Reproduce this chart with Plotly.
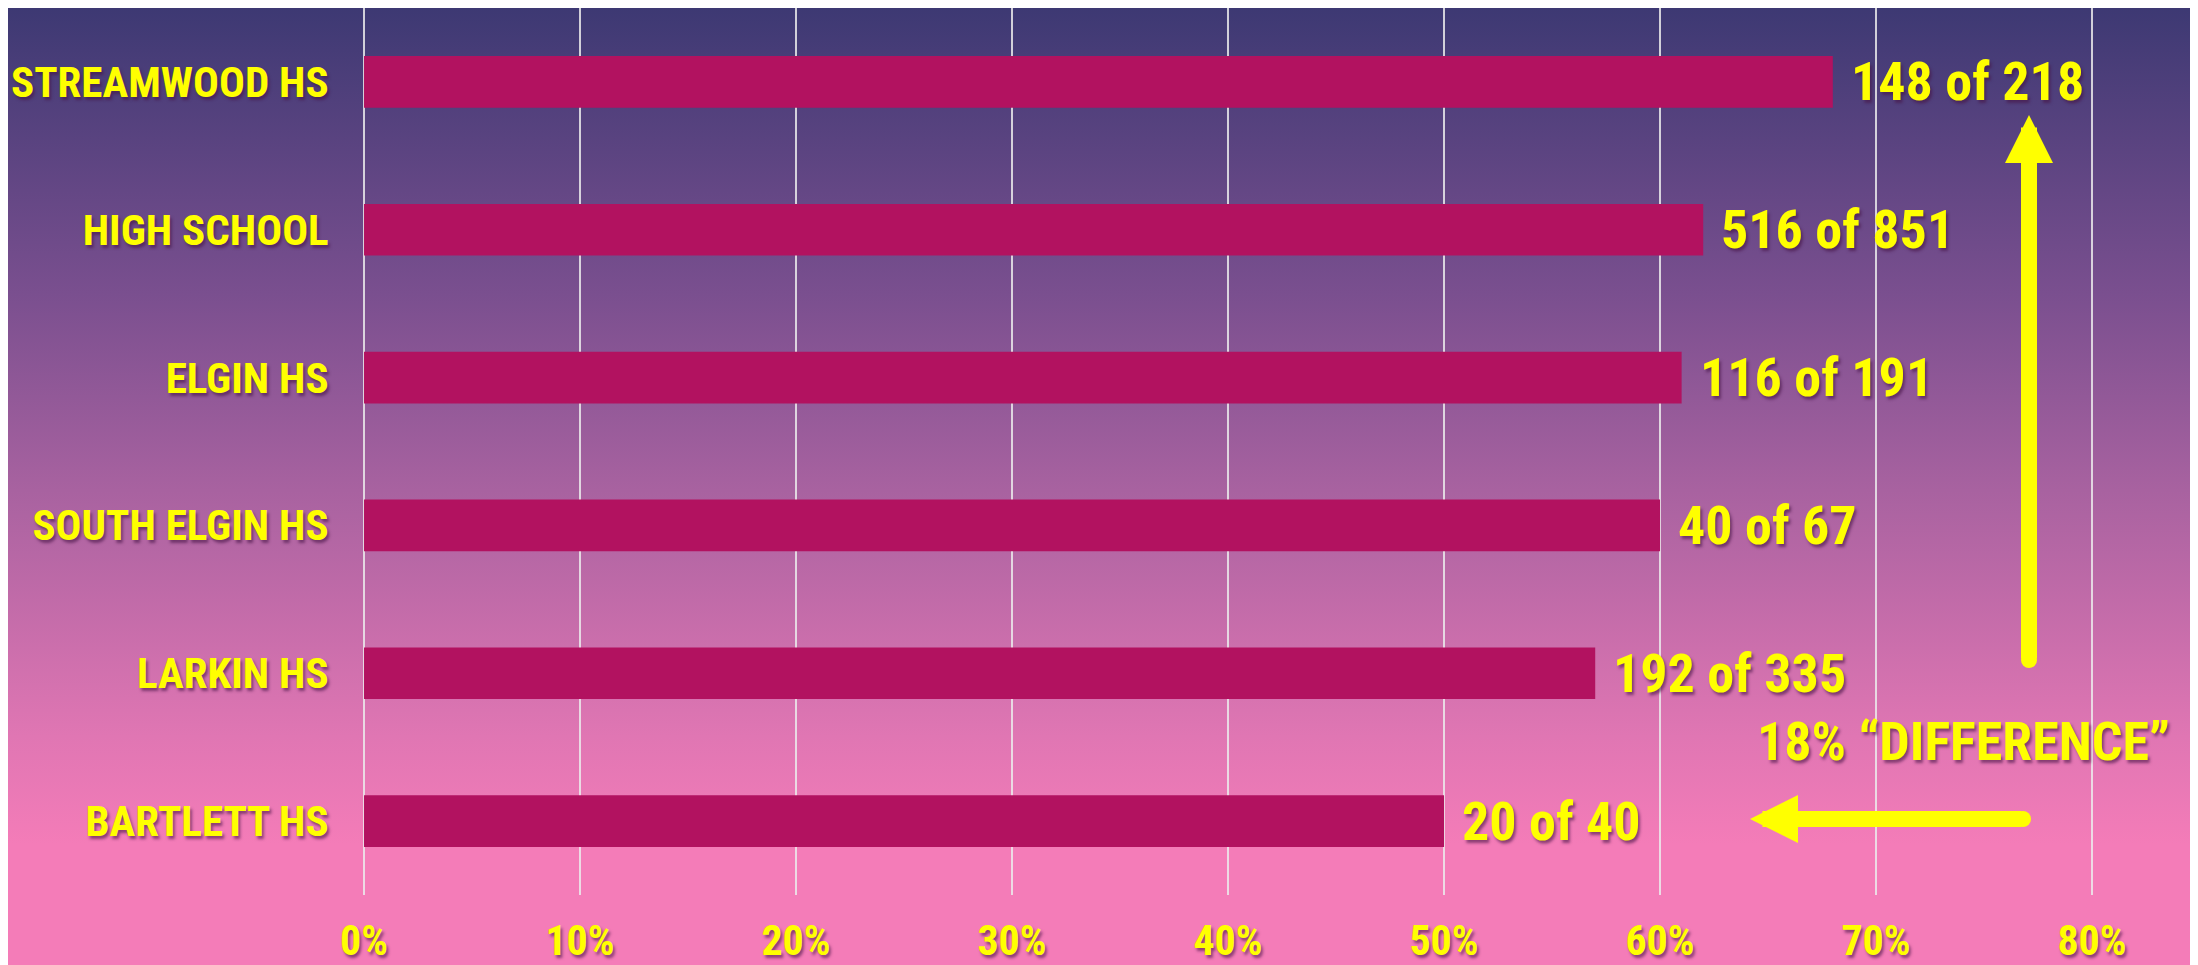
import base64
import pandas as pd
import plotly.express as px

# Datos
colegios = ["STREAMWOOD HS", "HIGH SCHOOL", "ELGIN HS", "SOUTH ELGIN HS", "LARKIN HS", "BARTLETT HS"]
porcentajes = [0.68, 0.62, 0.61, 0.60, 0.57, 0.50]
etiquetas = ["148 of 218", "516 of 851", "116 of 191", "40 of 67", "192 of 335", "20 of 40"]
ticks_x = [0, 0.1, 0.2, 0.3, 0.4, 0.5, 0.6, 0.7, 0.8]
texto_diferencia = "18% \u201cDIFFERENCE\u201d"

FUENTE = "Roboto Condensed, Open Sans Condensed, DejaVu Sans Condensed, sans-serif"
AMARILLO = "#ffff00"
SOMBRA = "2px 3px 3px rgba(70,20,70,0.6)"


def fondo_degradado():
    """Fondo con degradado vertical (azul oscuro arriba, rosa abajo) como SVG embebido."""
    svg = (
        '<svg xmlns="http://www.w3.org/2000/svg" width="100" height="100" '
        'viewBox="0 0 100 100" preserveAspectRatio="none">'
        '<defs><linearGradient id="g" x1="0" y1="0" x2="0" y2="1">'
        '<stop offset="0" stop-color="#3b3872"/>'
        '<stop offset="0.3" stop-color="#7a4f8f"/>'
        '<stop offset="0.5" stop-color="#a862a0"/>'
        '<stop offset="0.75" stop-color="#e076b3"/>'
        '<stop offset="0.86" stop-color="#f47cb8"/>'
        '<stop offset="1" stop-color="#f47cb8"/>'
        '</linearGradient></defs>'
        '<rect width="100" height="100" fill="url(#g)"/></svg>'
    )
    return "data:image/svg+xml;base64," + base64.b64encode(svg.encode()).decode()


def punta_redonda(x, y):
    """Círculo pequeño para redondear el extremo de la flecha."""
    return dict(
        type="circle", xref="paper", yref="paper", xsizemode="pixel", ysizemode="pixel",
        xanchor=x, yanchor=y, x0=-8, x1=8, y0=-8, y1=8,
        fillcolor=AMARILLO, line_width=0, layer="above",
    )


df = pd.DataFrame({"Colegio": colegios, "Porcentaje": porcentajes, "Etiqueta": etiquetas})

fig = px.bar(df, x="Porcentaje", y="Colegio", orientation="h")
fig.update_traces(marker_color="#b21260", marker_line_width=0, width=0.35, hoverinfo="skip")

# Etiquetas "x of y" a la derecha de cada barra
for _, fila in df.iterrows():
    fig.add_annotation(
        x=fila["Porcentaje"], y=fila["Colegio"], text=fila["Etiqueta"],
        xanchor="left", yanchor="middle", xshift=16, showarrow=False,
        font=dict(family=FUENTE, size=54, color=AMARILLO, weight="bold", shadow=SOMBRA),
    )

# Flechas y texto de la "diferencia"
fig.add_annotation(
    x=0.91947, y=0.88912, xref="paper", yref="paper", text="", showarrow=True,
    ax=0, ay=545, arrowhead=2, arrowwidth=16, arrowsize=0.6, arrowcolor=AMARILLO,
)
fig.add_annotation(
    x=0.79254, y=0.15959, xref="paper", yref="paper", text="", showarrow=True,
    ax=273, ay=0, arrowhead=2, arrowwidth=16, arrowsize=0.6, arrowcolor=AMARILLO,
)
fig.add_annotation(
    x=0.88945, y=0.23938, xref="paper", yref="paper", text=texto_diferencia, showarrow=False,
    xanchor="center", yanchor="middle",
    font=dict(family=FUENTE, size=54, color=AMARILLO, weight="bold", shadow=SOMBRA),
)

fig.update_layout(
    width=2198, height=965,
    margin=dict(l=0, r=0, t=0, b=0, autoexpand=False),
    paper_bgcolor="#f47cb8",
    plot_bgcolor="rgba(0,0,0,0)",
    showlegend=False,
    bargap=0.65,
    images=[dict(
        source=fondo_degradado(), xref="paper", yref="paper", x=-0.01, y=1.01,
        sizex=1.02, sizey=1.02, sizing="stretch", xanchor="left", yanchor="top", layer="below",
    )],
    shapes=[punta_redonda(0.91947, 0.32435), punta_redonda(0.91674, 0.15959)],
    xaxis=dict(
        domain=[0.16001, 0.95109], range=[-0.002, 0.803], automargin=False,
        tickvals=ticks_x, tickformat=".0%", showgrid=True,
        gridcolor="rgba(235,235,235,0.85)", gridwidth=2, zeroline=False, showline=False,
        ticks="", ticklabelstandoff=17, title=None,
        tickfont=dict(family=FUENTE, size=42, color=AMARILLO, weight="bold", shadow=SOMBRA),
    ),
    yaxis=dict(
        domain=[0.08083, 1.0], range=[-0.5, 5.5], automargin=False,
        categoryorder="array", categoryarray=colegios[::-1],
        showgrid=False, zeroline=False, showline=False, ticks="",
        ticklabelstandoff=30, title=None,
        tickfont=dict(family=FUENTE, size=43, color=AMARILLO, weight="bold", shadow=SOMBRA),
    ),
)

fig.write_html("out.html")
